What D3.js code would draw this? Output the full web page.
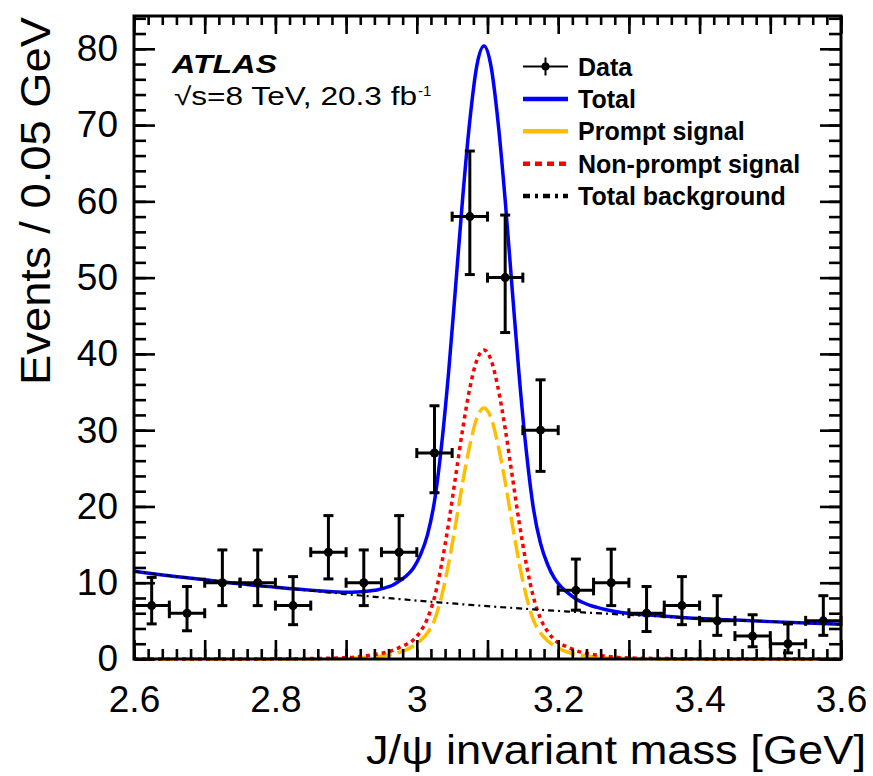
<!DOCTYPE html>
<html>
<head>
<meta charset="utf-8">
<script src="https://cdn.jsdelivr.net/npm/d3@7"></script>
<style>
  html, body { margin: 0; padding: 0; background: #fff; }
  svg { display: block; }
  text { font-family: "Liberation Sans", Arial, Helvetica, sans-serif; fill: #000; }
</style>
</head>
<body>
<svg id="chart" width="873" height="776"></svg>
<script>
// ---- Data: J/psi candidate mass spectrum, 0.05 GeV bins ----
const binCenters = [2.625, 2.675, 2.725, 2.775, 2.825, 2.875, 2.925, 2.975, 3.025, 3.075,
                    3.125, 3.175, 3.225, 3.275, 3.325, 3.375, 3.425, 3.475, 3.525, 3.575];
const counts     = [7, 6, 10, 10, 7, 14, 10, 14, 27, 58, 50, 30, 9, 10, 6, 7, 5, 3, 2, 5];
const errDown    = [2.4, 2.3, 3.0, 3.0, 2.5, 3.5, 3.0, 3.5, 5.2, 7.6, 7.2, 5.4, 2.6, 3.0, 2.4, 2.5, 1.9, 1.4, 1.2, 1.9];
const errUp      = [3.7, 3.5, 4.3, 4.3, 3.8, 4.8, 4.3, 4.8, 6.2, 8.6, 8.2, 6.6, 4.1, 4.4, 3.5, 3.8, 3.3, 2.8, 2.6, 3.3];
const binHalfWidth = 0.025;

// ---- Fit model components, sampled along the mass axis ----
const curveMass = [2.60, 2.65, 2.70, 2.75, 2.80, 2.85,
  2.895, 2.905, 2.915, 2.925, 2.935, 2.945, 2.955, 2.965, 2.975, 2.985,
  2.995, 3.005, 3.015, 3.025, 3.035, 3.045, 3.055, 3.065, 3.075, 3.085,
  3.095,
  3.105, 3.115, 3.125, 3.135, 3.145, 3.155, 3.165, 3.175, 3.185, 3.195,
  3.205, 3.215, 3.225, 3.235, 3.245, 3.255, 3.265, 3.275, 3.285, 3.295,
  3.35, 3.40, 3.45, 3.50, 3.55, 3.60];
const promptSignal = [0, 0, 0, 0, 0, 0.02,
  0.06, 0.09, 0.13, 0.18, 0.25, 0.33, 0.45, 0.6, 0.85, 1.2,
  1.7, 2.4, 3.4, 5.1, 8.2, 12.5, 17.7, 23.2, 28.0, 31.6,
  32.9,
  31.6, 28.0, 23.2, 17.7, 12.5, 8.2, 5.1, 3.4, 2.4, 1.7,
  1.2, 0.85, 0.6, 0.45, 0.33, 0.25, 0.18, 0.13, 0.09, 0.06,
  0.02, 0, 0, 0, 0, 0];
const nonpromptSignal = [0, 0, 0, 0, 0.02, 0.06,
  0.15, 0.2, 0.28, 0.38, 0.5, 0.65, 0.85, 1.1, 1.5, 1.9,
  2.5, 3.6, 5.3, 8.1, 12.4, 17.8, 24.0, 30.2, 35.5, 39.2,
  40.5,
  39.2, 35.5, 30.2, 24.0, 17.8, 12.4, 8.1, 5.3, 3.6, 2.5,
  1.9, 1.5, 1.1, 0.85, 0.65, 0.5, 0.38, 0.28, 0.2, 0.15,
  0.06, 0.02, 0, 0, 0, 0];
const background = [11.5, 10.9, 10.4, 9.85, 9.4, 8.95,
  8.55, 8.45, 8.37, 8.28, 8.2, 8.11, 8.03, 7.94, 7.86, 7.78,
  7.7, 7.62, 7.54, 7.47, 7.39, 7.32, 7.25, 7.17, 7.1, 7.03,
  6.96,
  6.89, 6.82, 6.76, 6.7, 6.63, 6.57, 6.51, 6.45, 6.39, 6.33,
  6.28, 6.22, 6.17, 6.11, 6.06, 6.01, 5.96, 5.91, 5.86, 5.81,
  5.55, 5.3, 5.1, 4.9, 4.72, 4.55];

// ---- Axis ticks and labels ----
const xLabelValues = [2.6, 2.8, 3.0, 3.2, 3.4, 3.6];
const xTickLabels  = ["2.6", "2.8", "3", "3.2", "3.4", "3.6"];
const yTickValues  = [0, 10, 20, 30, 40, 50, 60, 70, 80];
const yTickLabels  = ["0", "10", "20", "30", "40", "50", "60", "70", "80"];
const legendLabels = ["Data", "Total", "Prompt signal", "Non-prompt signal", "Total background"];

// ---- Layout ----
const svg = d3.select("#chart");
const frame = { left: 134, right: 841, top: 16, bottom: 659 };
const x = d3.scaleLinear().domain([2.6, 3.6]).range([frame.left, frame.right]);
const y = d3.scaleLinear().domain([0, 84.3]).range([frame.bottom, frame.top]);

svg.append("rect").attr("width", 873).attr("height", 776).attr("fill", "#fff");

svg.append("clipPath").attr("id", "plotClip")
  .append("rect")
  .attr("x", frame.left).attr("y", frame.top - 2)
  .attr("width", frame.right - frame.left).attr("height", frame.bottom - frame.top + 6);

const plot = svg.append("g").attr("clip-path", "url(#plotClip)");

// ---- Fit curves ----
const total = curveMass.map((m, i) => background[i] + promptSignal[i] + nonpromptSignal[i]);
const line = d3.line()
  .x(d => x(d[0]))
  .y(d => y(d[1]))
  .curve(d3.curveMonotoneX);
const series = vals => curveMass.map((m, i) => [m, vals[i]]);

plot.append("path").attr("d", line(series(total)))
  .attr("fill", "none").attr("stroke", "#0000ff").attr("stroke-width", 3.5);
plot.append("path").attr("d", line(series(promptSignal)))
  .attr("fill", "none").attr("stroke", "#ffbf00").attr("stroke-width", 3.5)
  .attr("stroke-dasharray", "18,6");
plot.append("path").attr("d", line(series(nonpromptSignal)))
  .attr("fill", "none").attr("stroke", "#ff0000").attr("stroke-width", 3.5)
  .attr("stroke-dasharray", "4,4");
plot.append("path").attr("d", line(series(background)))
  .attr("fill", "none").attr("stroke", "#000").attr("stroke-width", 2.2)
  .attr("stroke-dasharray", "6,4,2,4");

// ---- Axes: ticks point inward on all four sides ----
const xMajor = d3.range(0, 11).map(i => 2.6 + i * 0.1);
const xMinor = d3.range(0, 51).map(i => 2.6 + i * 0.02);
const yMinor = d3.range(0, 43).map(i => i * 2);
const fmtX = d => {
  const k = xLabelValues.findIndex(v => Math.abs(v - d) < 1e-6);
  return k >= 0 ? xTickLabels[k] : "";
};
const fmtY = d => {
  const k = yTickValues.indexOf(d);
  return k >= 0 ? yTickLabels[k] : "";
};

function styleAxis(g) {
  g.select(".domain").remove();
  g.selectAll(".tick line").attr("stroke", "#000").attr("stroke-width", 2.6);
  g.selectAll(".tick text").attr("font-size", 37)
    .attr("font-family", "'Liberation Sans', Arial, Helvetica, sans-serif");
}

svg.append("g").attr("transform", `translate(0,${frame.bottom})`)
  .call(d3.axisBottom(x).tickValues(xMinor).tickSize(-10).tickFormat(""))
  .call(styleAxis);
svg.append("g").attr("transform", `translate(0,${frame.bottom})`)
  .call(d3.axisBottom(x).tickValues(xMajor).tickSize(-19).tickPadding(27).tickFormat(fmtX))
  .call(styleAxis);
svg.append("g").attr("transform", `translate(0,${frame.top})`)
  .call(d3.axisTop(x).tickValues(xMinor).tickSize(-9).tickFormat(""))
  .call(styleAxis);
svg.append("g").attr("transform", `translate(0,${frame.top})`)
  .call(d3.axisTop(x).tickValues(xMajor).tickSize(-18).tickFormat(""))
  .call(styleAxis);

svg.append("g").attr("transform", `translate(${frame.left},0)`)
  .call(d3.axisLeft(y).tickValues(yMinor).tickSize(-12).tickFormat(""))
  .call(styleAxis);
svg.append("g").attr("transform", `translate(${frame.left},0)`)
  .call(d3.axisLeft(y).tickValues(yTickValues).tickSize(-21).tickPadding(16).tickFormat(fmtY))
  .call(styleAxis);
svg.append("g").attr("transform", `translate(${frame.right},0)`)
  .call(d3.axisRight(y).tickValues(yMinor).tickSize(-12).tickFormat(""))
  .call(styleAxis);
svg.append("g").attr("transform", `translate(${frame.right},0)`)
  .call(d3.axisRight(y).tickValues(yTickValues).tickSize(-21).tickFormat(""))
  .call(styleAxis);

svg.append("rect")
  .attr("x", frame.left).attr("y", frame.top)
  .attr("width", frame.right - frame.left).attr("height", frame.bottom - frame.top)
  .attr("fill", "none").attr("stroke", "#000").attr("stroke-width", 3);

// ---- Data points with error bars ----
const pts = svg.append("g").attr("stroke", "#000").attr("stroke-width", 3).attr("fill", "#000");
binCenters.forEach((m, i) => {
  const cx = x(m), cy = y(counts[i]);
  const yHi = y(counts[i] + errUp[i]), yLo = y(Math.max(0, counts[i] - errDown[i]));
  const xL = x(m - binHalfWidth), xR = x(m + binHalfWidth);
  pts.append("line").attr("x1", cx).attr("x2", cx).attr("y1", yHi).attr("y2", yLo);
  pts.append("line").attr("x1", cx - 5).attr("x2", cx + 5).attr("y1", yHi).attr("y2", yHi);
  pts.append("line").attr("x1", cx - 5).attr("x2", cx + 5).attr("y1", yLo).attr("y2", yLo);
  pts.append("line").attr("x1", xL).attr("x2", xR).attr("y1", cy).attr("y2", cy);
  pts.append("line").attr("x1", xL).attr("x2", xL).attr("y1", cy - 5).attr("y2", cy + 5);
  pts.append("line").attr("x1", xR).attr("x2", xR).attr("y1", cy - 5).attr("y2", cy + 5);
  pts.append("circle").attr("cx", cx).attr("cy", cy).attr("r", 4.5).attr("stroke", "none");
});

// ---- Axis titles ----
svg.append("text")
  .attr("x", 866).attr("y", 764)
  .attr("text-anchor", "end")
  .attr("font-size", 40)
  .attr("textLength", 500).attr("lengthAdjust", "spacingAndGlyphs")
  .text("J/ψ invariant mass [GeV]");
svg.append("text")
  .attr("transform", "translate(50,17) rotate(-90)")
  .attr("text-anchor", "end")
  .attr("font-size", 42)
  .attr("textLength", 368).attr("lengthAdjust", "spacingAndGlyphs")
  .text("Events / 0.05 GeV");

// ---- Experiment label ----
svg.append("text")
  .attr("x", 172).attr("y", 73)
  .attr("font-size", 26).attr("font-weight", "bold").attr("font-style", "italic")
  .attr("textLength", 105).attr("lengthAdjust", "spacingAndGlyphs")
  .text("ATLAS");
svg.append("text")
  .attr("x", 174).attr("y", 105)
  .attr("font-size", 25)
  .attr("textLength", 243).attr("lengthAdjust", "spacingAndGlyphs")
  .text("√s=8 TeV, 20.3 fb");
svg.append("text")
  .attr("x", 418).attr("y", 96)
  .attr("font-size", 15)
  .text("-1");

// ---- Legend ----
const legend = svg.append("g");
const rowY = legendLabels.map((_, i) => 66.5 + i * 32.4);
const lx0 = 523, lx1 = 568;
// Data
legend.append("line").attr("x1", lx0).attr("x2", lx1).attr("y1", rowY[0]).attr("y2", rowY[0])
  .attr("stroke", "#000").attr("stroke-width", 2);
legend.append("line").attr("x1", (lx0 + lx1) / 2).attr("x2", (lx0 + lx1) / 2)
  .attr("y1", rowY[0] - 9).attr("y2", rowY[0] + 9)
  .attr("stroke", "#000").attr("stroke-width", 2);
legend.append("circle").attr("cx", (lx0 + lx1) / 2).attr("cy", rowY[0]).attr("r", 4).attr("fill", "#000");
// Curves
const legendStyles = [
  null,
  { stroke: "#0000ff", dash: null },
  { stroke: "#ffbf00", dash: null },
  { stroke: "#ff0000", dash: "7,5" },
  { stroke: "#000", dash: "7,5,3,5" }
];
legendStyles.forEach((s, i) => {
  if (!s) return;
  const l = legend.append("line").attr("x1", lx0).attr("x2", lx1)
    .attr("y1", rowY[i]).attr("y2", rowY[i])
    .attr("stroke", s.stroke).attr("stroke-width", 4.5);
  if (s.dash) l.attr("stroke-dasharray", s.dash);
});
legendLabels.forEach((t, i) => {
  legend.append("text")
    .attr("x", 578).attr("y", rowY[i] + 9)
    .attr("font-size", 25).attr("font-weight", "bold")
    .text(t);
});
</script>
</body>
</html>
